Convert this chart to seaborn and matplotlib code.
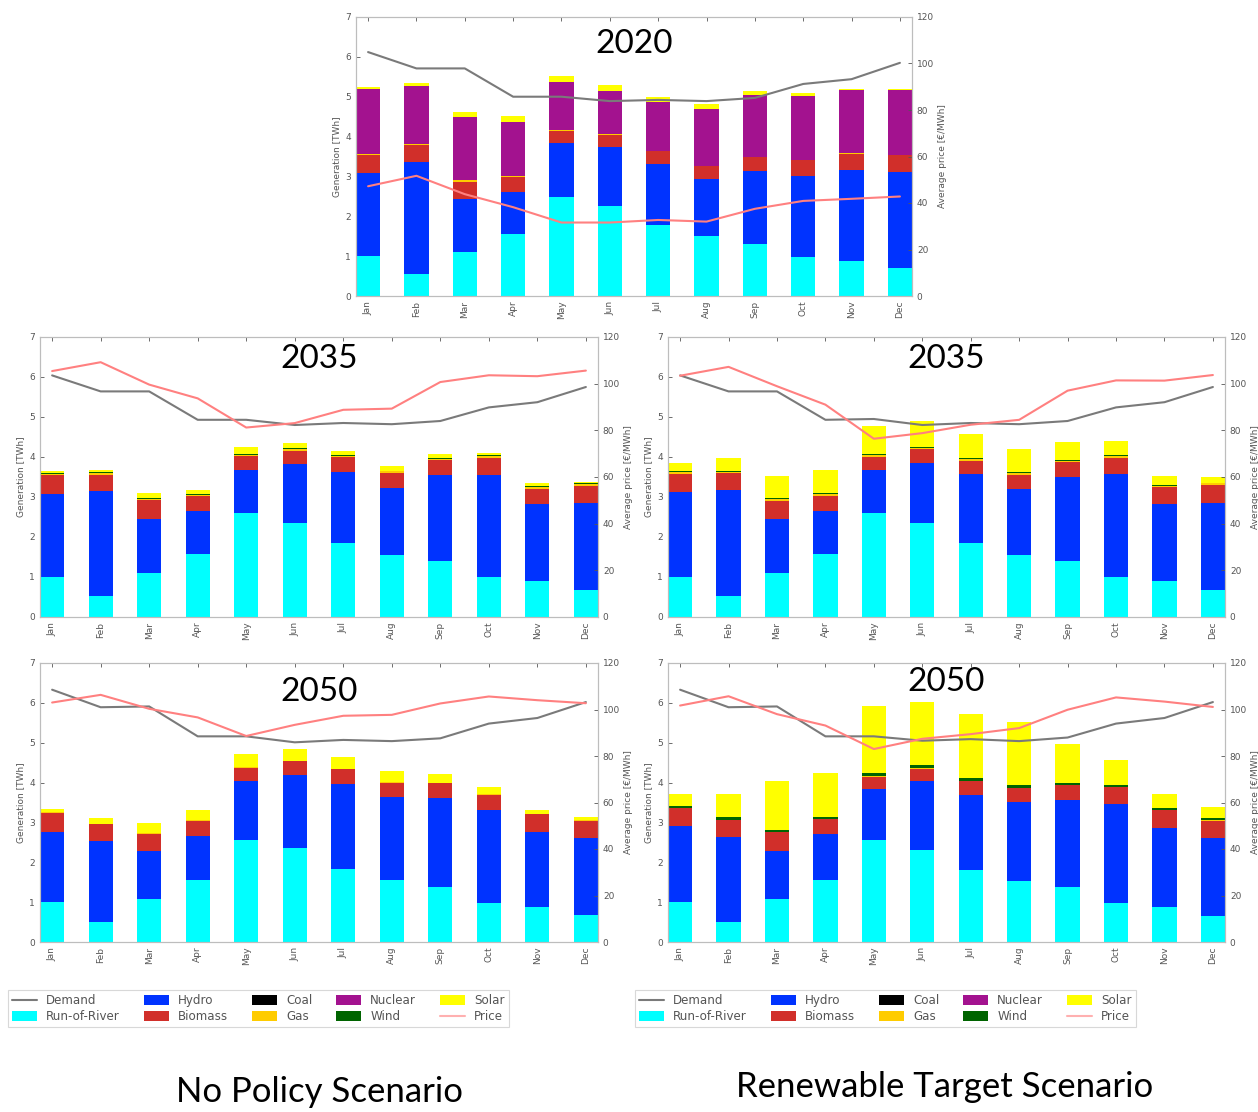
import numpy as np
import matplotlib
matplotlib.use("Agg")
import matplotlib.pyplot as plt
from matplotlib.patches import Patch
from matplotlib.lines import Line2D
import seaborn as sns

MONTHS = ["Jan", "Feb", "Mar", "Apr", "May", "Jun",
          "Jul", "Aug", "Sep", "Oct", "Nov", "Dec"]
TECHS = ["Run-of-River", "Hydro", "Biomass", "Coal", "Gas", "Nuclear", "Wind", "Solar"]
TECH_COLORS = {
    "Run-of-River": "#00ffff",
    "Hydro": "#0033ff",
    "Biomass": "#d12f2a",
    "Coal": "#000000",
    "Gas": "#ffcc00",
    "Nuclear": "#a3128f",
    "Wind": "#006400",
    "Solar": "#ffff00",
}
DEMAND_COLOR = "#7a7a7a"
PRICE_COLOR = "#ff8080"
ZERO = [0.0] * 12

# ---- 2020 (reference year) ----
ror_2020 = [1.00, 0.54, 1.10, 1.55, 2.48, 2.25, 1.79, 1.51, 1.31, 0.97, 0.89, 0.69]
hydro_2020 = [2.09, 2.83, 1.33, 1.05, 1.36, 1.49, 1.52, 1.42, 1.83, 2.03, 2.27, 2.41]
biomass_2020 = [0.45, 0.42, 0.44, 0.39, 0.31, 0.31, 0.33, 0.33, 0.34, 0.40, 0.41, 0.44]
gas_2020 = [0.03, 0.03, 0.03, 0.02, 0.01, 0.01, 0.01, 0.01, 0.01, 0.01, 0.01, 0.01]
nuclear_2020 = [1.62, 1.46, 1.59, 1.35, 1.20, 1.08, 1.21, 1.42, 1.56, 1.61, 1.58, 1.63]
solar_2020 = [0.05, 0.06, 0.12, 0.15, 0.17, 0.15, 0.13, 0.13, 0.09, 0.07, 0.04, 0.02]
demand_2020 = [6.12, 5.71, 5.71, 5.00, 5.00, 4.89, 4.92, 4.89, 4.97, 5.32, 5.44, 5.85]
price_2020 = [47.2, 51.7, 43.8, 38.2, 31.6, 31.6, 32.7, 32.0, 37.5, 40.9, 41.8, 42.8]

# ---- 2035, No Policy ----
ror_2035_np = [1.00, 0.53, 1.09, 1.57, 2.61, 2.36, 1.85, 1.55, 1.40, 0.99, 0.89, 0.68]
hydro_2035_np = [2.08, 2.61, 1.37, 1.07, 1.07, 1.47, 1.78, 1.68, 2.16, 2.57, 1.93, 2.16]
biomass_2035_np = [0.46, 0.42, 0.46, 0.38, 0.34, 0.33, 0.36, 0.37, 0.36, 0.42, 0.39, 0.44]
gas_2035_np = [0.04] * 12
wind_2035_np = [0.02] * 12
solar_2035_np = [0.04, 0.06, 0.12, 0.10, 0.16, 0.12, 0.11, 0.11, 0.09, 0.07, 0.07, 0.04]
demand_2035_np = [6.04, 5.64, 5.64, 4.93, 4.93, 4.80, 4.85, 4.82, 4.90, 5.24, 5.37, 5.75]
price_2035_np = [105.4, 109.2, 99.6, 93.7, 81.2, 83.1, 88.8, 89.3, 100.7, 103.6, 103.2, 105.6]

# ---- 2035, Renewable Target ----
ror_2035_rt = [1.00, 0.53, 1.09, 1.57, 2.61, 2.36, 1.85, 1.55, 1.40, 0.99, 0.89, 0.68]
hydro_2035_rt = [2.12, 2.65, 1.36, 1.09, 1.06, 1.48, 1.72, 1.64, 2.11, 2.59, 1.93, 2.18]
biomass_2035_rt = [0.46, 0.41, 0.46, 0.37, 0.34, 0.35, 0.34, 0.37, 0.36, 0.40, 0.42, 0.44]
gas_2035_rt = [0.04] * 12
wind_2035_rt = [0.02] * 12
solar_2035_rt = [0.20, 0.32, 0.56, 0.58, 0.71, 0.65, 0.61, 0.59, 0.44, 0.35, 0.23, 0.15]
demand_2035_rt = [6.04, 5.64, 5.64, 4.93, 4.95, 4.80, 4.85, 4.82, 4.90, 5.24, 5.37, 5.75]
price_2035_rt = [103.4, 107.2, 98.9, 91.0, 76.4, 78.8, 82.4, 84.5, 97.0, 101.4, 101.3, 103.7]

# ---- 2050, No Policy ----
ror_2050_np = [1.00, 0.49, 1.09, 1.55, 2.57, 2.35, 1.82, 1.55, 1.39, 0.97, 0.88, 0.67]
hydro_2050_np = [1.77, 2.05, 1.19, 1.11, 1.47, 1.84, 2.14, 2.09, 2.23, 2.33, 1.89, 1.93]
biomass_2050_np = [0.47, 0.41, 0.44, 0.37, 0.33, 0.34, 0.37, 0.36, 0.36, 0.40, 0.43, 0.44]
gas_2050_np = [0.02] * 12
solar_2050_np = [0.08, 0.13, 0.25, 0.26, 0.33, 0.29, 0.28, 0.27, 0.21, 0.16, 0.09, 0.08]
demand_2050_np = [6.33, 5.89, 5.91, 5.16, 5.16, 5.01, 5.07, 5.04, 5.11, 5.48, 5.62, 6.02]
price_2050_np = [103.0, 106.3, 100.3, 96.6, 88.6, 93.4, 97.3, 97.7, 102.6, 105.6, 104.0, 102.7]

# ---- 2050, Renewable Target ----
ror_2050_rt = [1.01, 0.49, 1.08, 1.55, 2.56, 2.32, 1.81, 1.54, 1.39, 0.98, 0.89, 0.66]
hydro_2050_rt = [1.89, 2.15, 1.21, 1.16, 1.27, 1.71, 1.87, 1.97, 2.18, 2.49, 1.98, 1.95]
biomass_2050_rt = [0.45, 0.42, 0.46, 0.37, 0.32, 0.32, 0.35, 0.35, 0.36, 0.41, 0.44, 0.43]
gas_2050_rt = [0.01] * 12
wind_2050_rt = [0.06, 0.06, 0.06, 0.05, 0.07, 0.07, 0.07, 0.07, 0.05, 0.05, 0.04, 0.06]
solar_2050_rt = [0.30, 0.58, 1.21, 1.09, 1.68, 1.60, 1.62, 1.57, 0.97, 0.62, 0.35, 0.27]
demand_2050_rt = [6.33, 5.89, 5.91, 5.16, 5.16, 5.05, 5.09, 5.04, 5.13, 5.48, 5.62, 6.02]
price_2050_rt = [101.7, 105.7, 98.0, 93.1, 83.0, 87.4, 89.4, 92.0, 99.9, 105.2, 103.4, 101.1]

PANELS = [
    # (year label, mix by technology, demand, price, axes rect in px, title y)
    ("2020",
     [ror_2020, hydro_2020, biomass_2020, ZERO, gas_2020, nuclear_2020, ZERO, solar_2020],
     demand_2020, price_2020, [356, 17, 556, 279], 0.905),
    ("2035",
     [ror_2035_np, hydro_2035_np, biomass_2035_np, ZERO, gas_2035_np, ZERO, wind_2035_np, solar_2035_np],
     demand_2035_np, price_2035_np, [40, 337, 558, 280], 0.920),
    ("2035",
     [ror_2035_rt, hydro_2035_rt, biomass_2035_rt, ZERO, gas_2035_rt, ZERO, wind_2035_rt, solar_2035_rt],
     demand_2035_rt, price_2035_rt, [668, 337, 557, 280], 0.920),
    ("2050",
     [ror_2050_np, hydro_2050_np, biomass_2050_np, ZERO, gas_2050_np, ZERO, ZERO, solar_2050_np],
     demand_2050_np, price_2050_np, [40, 663, 558, 279], 0.895),
    ("2050",
     [ror_2050_rt, hydro_2050_rt, biomass_2050_rt, ZERO, gas_2050_rt, ZERO, wind_2050_rt, solar_2050_rt],
     demand_2050_rt, price_2050_rt, [668, 663, 557, 279], 0.932),
]

W, H = 1258, 1112
sns.set_style("white")
plt.rcParams["font.family"] = ["DejaVu Sans"]
fig = plt.figure(figsize=(W / 100, H / 100), dpi=100)

TICK_GRAY = "#555555"
SPINE_GRAY = "#bdbdbd"


def style_axis(a):
    for s in a.spines.values():
        s.set_color(SPINE_GRAY)
        s.set_linewidth(0.8)
    a.tick_params(colors=TICK_GRAY, labelsize=6.5, direction="in", length=3, width=0.6)


for year, mix, demand, price, (px, py, pw, ph), ty in PANELS:
    ax = fig.add_axes([px / W, 1 - (py + ph) / H, pw / W, ph / H])
    bottom = np.zeros(12)
    for tech, vals in zip(TECHS, mix):
        vals = np.asarray(vals, dtype=float)
        if vals.sum() > 0:
            sns.barplot(x=MONTHS, y=vals, order=MONTHS, color=TECH_COLORS[tech],
                        saturation=1, width=0.5, errorbar=None, linewidth=0,
                        bottom=bottom.copy(), ax=ax)
        bottom += vals
    sns.lineplot(x=np.arange(12), y=demand, color=DEMAND_COLOR, lw=1.5, ax=ax)
    ax.set_ylim(0, 7)
    ax.set_xlim(-0.25, 11.25)
    ax.set_yticks(range(0, 8))
    ax.set_xticks(range(12))
    ax.set_xticklabels(MONTHS, rotation=90)
    ax.set_xlabel("")
    ax.set_ylabel("Generation [TWh]", fontsize=6.5, color=TICK_GRAY, labelpad=3)
    ax.tick_params(top=True, right=False)
    style_axis(ax)

    ax2 = ax.twinx()
    sns.lineplot(x=np.arange(12), y=price, color=PRICE_COLOR, lw=1.5, ax=ax2)
    ax2.set_ylim(0, 120)
    ax2.set_yticks(range(0, 121, 20))
    ax2.set_xlim(-0.25, 11.25)
    ax2.set_ylabel("Average price [€/MWh]", fontsize=6.5, color=TICK_GRAY, labelpad=3)
    style_axis(ax2)
    ax2.tick_params(top=False, left=False, bottom=False)

    ax2.text(0.5, ty, year, transform=ax.transAxes, ha="center", va="center",
             fontsize=24, family="Lato", color="black", zorder=10)

handles = [Line2D([], [], color=DEMAND_COLOR, lw=1.5, label="Demand")]
for tech in TECHS:
    handles.append(Patch(facecolor=TECH_COLORS[tech], edgecolor="none", label=tech))
handles.append(Line2D([], [], color="#ffb0b0", lw=1.5, label="Price"))

for lx in (8, 635):
    leg = fig.legend(handles=handles, ncol=5, loc="upper left",
                     bbox_to_anchor=(lx / W, 1 - 990 / H), borderaxespad=0,
                     fontsize=8.6, frameon=True, fancybox=False,
                     handlelength=2.1, handleheight=0.8, columnspacing=2.0,
                     handletextpad=0.75, labelspacing=0.25, borderpad=0.35,
                     labelcolor=TICK_GRAY)
    leg.get_frame().set_edgecolor("#cfcfcf")
    leg.get_frame().set_linewidth(0.8)

fig.text(320 / W, 1 - 1092 / H, "No Policy Scenario", ha="center", va="center",
         fontsize=25, family="Lato", color="black")
fig.text(945 / W, 1 - 1087 / H, "Renewable Target Scenario", ha="center", va="center",
         fontsize=25, family="Lato", color="black")

fig.savefig("out.png", dpi=100, facecolor="white")
